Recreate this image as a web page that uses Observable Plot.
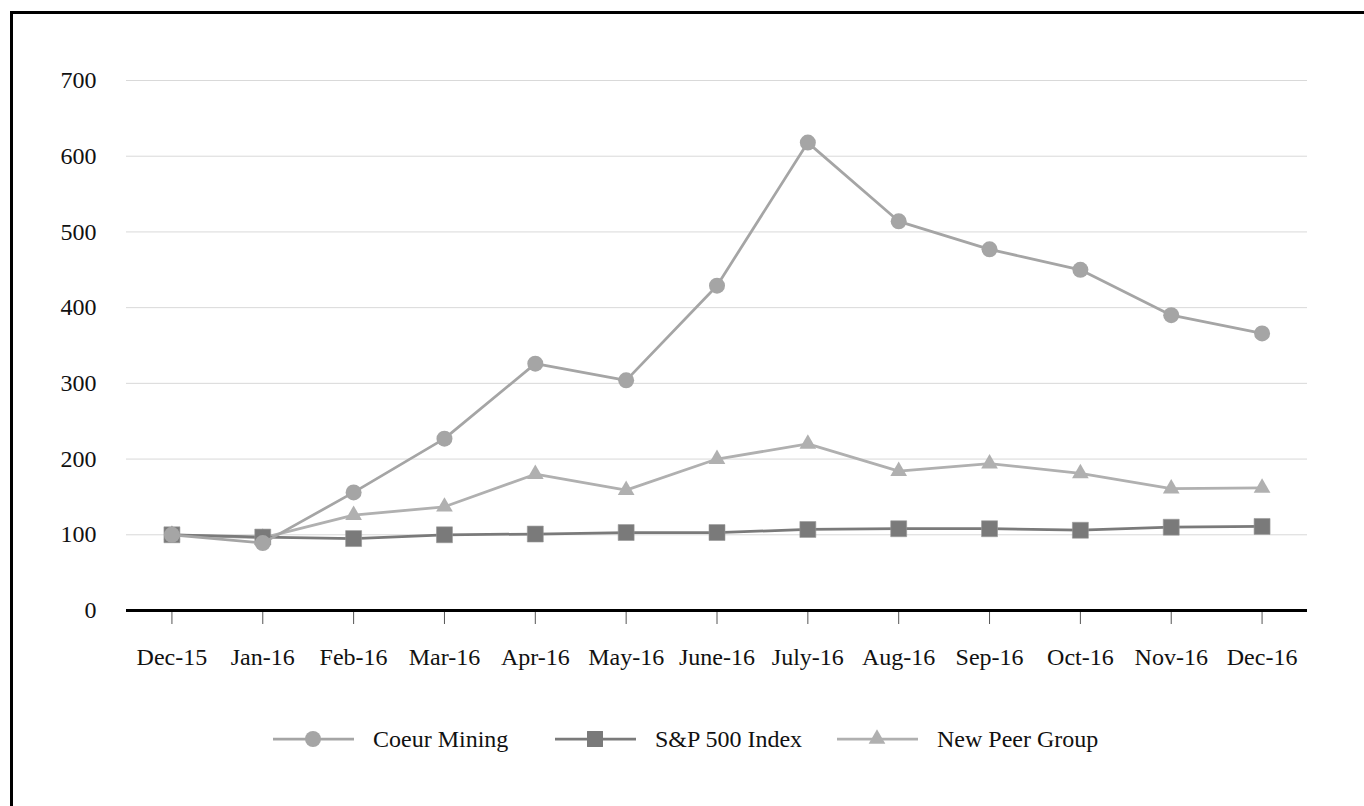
<!DOCTYPE html>
<html>
<head>
<meta charset="utf-8">
<script src="https://cdn.jsdelivr.net/npm/d3@7"></script>
<script src="https://cdn.jsdelivr.net/npm/@observablehq/plot@0.6"></script>
<style>
  html, body { margin: 0; padding: 0; background: #fff; overflow: hidden; }
  body { width: 1364px; height: 806px; position: relative; font-family: "Liberation Serif", "DejaVu Serif", serif; }
  #frame { position: absolute; left: 10px; top: 11px; width: 1400px; height: 900px; border-left: 3px solid #000; border-top: 3px solid #000; box-sizing: border-box; }
  #chart { position: absolute; left: 0; top: 0; }
  .leg { position: absolute; top: 725px; height: 28px; display: flex; align-items: center; font-size: 24px; color: #111; white-space: nowrap; }
  .leg svg { display: block; margin-right: 19px; }
</style>
</head>
<body>
<div id="frame"></div>
<div id="chart"></div>
<div id="legend"></div>
<script>
const months = ["Dec-15","Jan-16","Feb-16","Mar-16","Apr-16","May-16","June-16","July-16","Aug-16","Sep-16","Oct-16","Nov-16","Dec-16"];
const coeur  = [100, 89, 156, 227, 326, 304, 429, 618, 514, 477, 450, 390, 366];
const sp500  = [100, 97, 95, 100, 101, 103, 103, 107, 108, 108, 106, 110, 111];
const peer   = [100, 96, 126, 137, 180, 159, 200, 220, 184, 194, 181, 161, 162];
const yTicks = [0, 100, 200, 300, 400, 500, 600, 700];

const seriesNames = ["Coeur Mining", "S&P 500 Index", "New Peer Group"];
const seriesColors = {"Coeur Mining": "#a5a5a5", "S&P 500 Index": "#7a7a7a", "New Peer Group": "#b0b0b0"};

const rows = (name, vals) => months.map((m, i) => ({month: m, value: vals[i], series: name}));
const coeurRows = rows("Coeur Mining", coeur);
const spRows = rows("S&P 500 Index", sp500);
const peerRows = rows("New Peer Group", peer);

const font = "Liberation Serif";

const chart = Plot.plot({
  width: 1364,
  height: 690,
  marginLeft: 126,
  marginRight: 57,
  marginTop: 80,
  marginBottom: 80,
  style: {fontFamily: font, fontSize: "24px", color: "#111", background: "transparent"},
  x: {type: "point", domain: months, padding: 0.5, round: false, label: null},
  y: {domain: [0, 700], label: null},
  marks: [
    Plot.gridY(yTicks, {stroke: "#d9d9d9", strokeOpacity: 1, strokeWidth: 1}),
    Plot.axisY(yTicks, {tickSize: 0, tickPadding: 30, fontSize: 24, fill: "#111", label: null}),
    Plot.axisX(months, {tickSize: 14, tickPadding: 23, fontSize: 24, fill: "#111", stroke: "#555", label: null}),
    Plot.ruleY([0], {stroke: "#000", strokeWidth: 3}),
    Plot.line(peerRows, {x: "month", y: "value", stroke: seriesColors["New Peer Group"], strokeWidth: 2.75}),
    Plot.dot(peerRows, {x: "month", y: "value", symbol: "triangle", r: 6.2, fill: seriesColors["New Peer Group"], stroke: "none"}),
    Plot.line(spRows, {x: "month", y: "value", stroke: seriesColors["S&P 500 Index"], strokeWidth: 2.75}),
    Plot.dot(spRows, {x: "month", y: "value", symbol: "square", r: 9, fill: seriesColors["S&P 500 Index"], stroke: "#999", strokeWidth: 0.6}),
    Plot.line(coeurRows, {x: "month", y: "value", stroke: seriesColors["Coeur Mining"], strokeWidth: 2.75}),
    Plot.dot(coeurRows, {x: "month", y: "value", symbol: "circle", r: 8, fill: seriesColors["Coeur Mining"], stroke: "none"})
  ]
});
document.getElementById("chart").appendChild(chart);

// Legend
const legendX = {"Coeur Mining": 273, "S&P 500 Index": 555, "New Peer Group": 837};
const legendSymbol = {"Coeur Mining": "circle", "S&P 500 Index": "square", "New Peer Group": "triangle"};
const legendR = {"Coeur Mining": 8, "S&P 500 Index": 9, "New Peer Group": 6.2};
const legend = d3.select("#legend");
seriesNames.forEach(name => {
  const item = legend.append("div").attr("class", "leg").style("left", legendX[name] + "px");
  const svg = item.append("svg").attr("width", 81).attr("height", 28);
  svg.append("line").attr("x1", 0).attr("x2", 81).attr("y1", 14).attr("y2", 14)
     .attr("stroke", seriesColors[name]).attr("stroke-width", 2.75);
  const symType = {circle: d3.symbolCircle, square: d3.symbolSquare, triangle: d3.symbolTriangle}[legendSymbol[name]];
  svg.append("path").attr("transform", "translate(40,14)")
     .attr("d", d3.symbol(symType, Math.PI * legendR[name] ** 2)())
     .attr("fill", seriesColors[name]);
  item.append("span").text(name);
});
</script>
</body>
</html>
